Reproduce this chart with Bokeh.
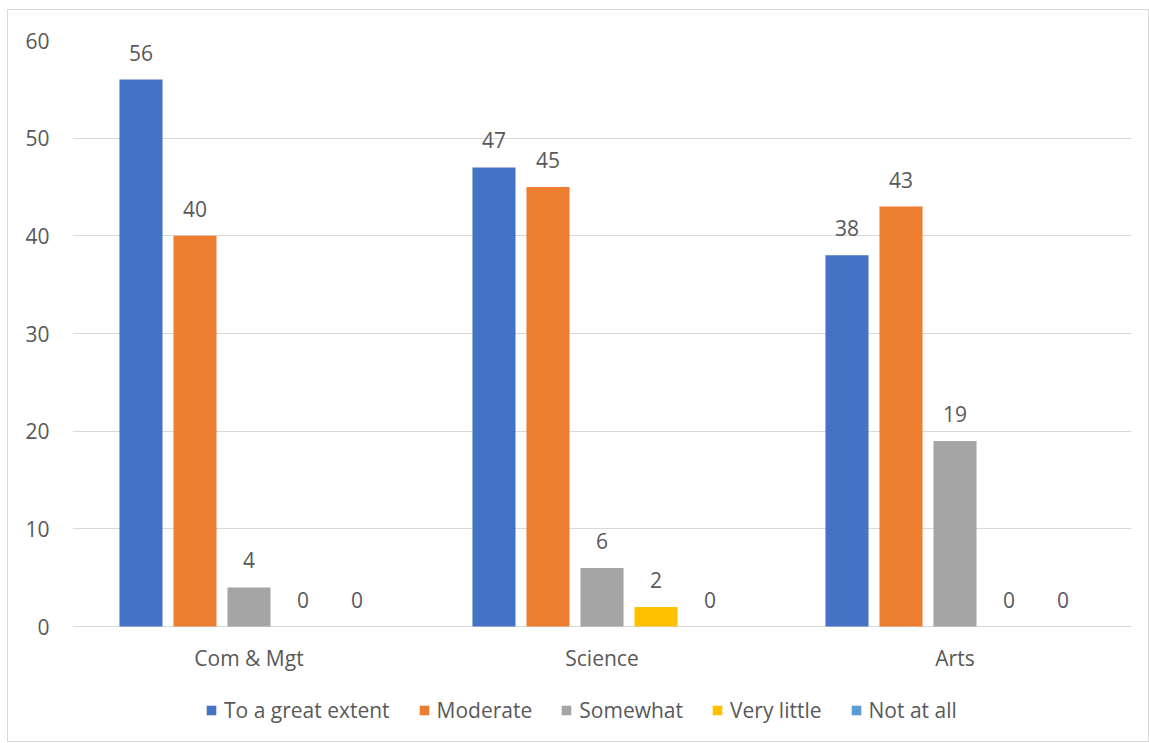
from bokeh.plotting import figure
from bokeh.models import (ColumnDataSource, Range1d, FactorRange, LabelSet, Legend, LegendItem)
from bokeh.core.properties import value
from bokeh.transform import dodge
from bokeh.embed import file_html
from bokeh.resources import INLINE

categories = ["Com & Mgt", "Science", "Arts"]
series_names = ["To a great extent", "Moderate", "Somewhat", "Very little", "Not at all"]
great_extent = [56, 47, 38]
moderate = [40, 45, 43]
somewhat = [4, 6, 19]
very_little = [0, 2, 0]
not_at_all = [0, 0, 0]
y_ticks = [0, 10, 20, 30, 40, 50, 60]

series_values = [great_extent, moderate, somewhat, very_little, not_at_all]
colors = ["#4472C4", "#ED7D31", "#A5A5A5", "#FFC000", "#5B9BD5"]
offsets = [-0.306, -0.153, 0.0, 0.153, 0.306]
FONT = "Open Sans"
FS = "21px"
TXT = "#595959"

# plot area: 60 -> 586 px; extend frame below zero to host category labels and legend
PLOT_PX = 586
EXTRA_PX = 115
y_start = -EXTRA_PX * max(y_ticks) / PLOT_PX

p = figure(x_range=FactorRange(*categories), y_range=Range1d(y_start, max(y_ticks)),
           frame_width=1059, frame_height=PLOT_PX + EXTRA_PX,
           output_backend="svg", toolbar_location=None,
           min_border_left=64, min_border_top=30, min_border_right=17, min_border_bottom=0)
p.styles = {"border": "1px solid #d9d9d9", "margin-left": "7px", "margin-top": "9px"}
p.outline_line_color = None
p.background_fill_color = "white"

p.xgrid.grid_line_color = None
p.ygrid.grid_line_color = "#d9d9d9"
p.ygrid.grid_line_width = 1
p.yaxis.ticker = y_ticks
p.xaxis.visible = False

yax = p.yaxis[0]
yax.axis_line_color = None
yax.major_tick_line_color = None
yax.minor_tick_line_color = None
yax.major_label_text_font = FONT
yax.major_label_text_font_size = FS
yax.major_label_text_color = TXT
yax.major_label_standoff = 17

# category labels under the zero line
cat_src = ColumnDataSource(dict(cat=categories, base=[min(y_ticks)] * len(categories)))
p.add_layout(LabelSet(x="cat", y="base", text="cat", source=cat_src,
                      text_align="center", text_baseline="middle", y_offset=-31,
                      text_font=value(FONT), text_font_size=value(FS), text_color=value(TXT)))

items = []
for name, vals, col, off in zip(series_names, series_values, colors, offsets):
    src = ColumnDataSource(dict(cat=categories, val=vals, lbl=[str(v) for v in vals]))
    r = p.vbar(x=dodge("cat", off, range=p.x_range), top="val", bottom=0, width=0.122,
               source=src, fill_color=col, line_color=None)
    lab = LabelSet(x=dodge("cat", off, range=p.x_range), y="val", text="lbl", source=src,
                   text_align="center", text_baseline="bottom", y_offset=19,
                   text_font=value(FONT), text_font_size=value(FS), text_color=value(TXT))
    p.add_layout(lab)
    items.append(LegendItem(label=name, renderers=[r]))

legend = Legend(items=items, orientation="horizontal", location=(133, 17),
                label_text_font=FONT, label_text_font_size=FS, label_text_color=TXT,
                glyph_width=12, glyph_height=12, spacing=28, label_standoff=7,
                border_line_color=None, background_fill_alpha=0, padding=0, margin=0)
p.add_layout(legend, "center")

open("out.html", "w").write(file_html(p, INLINE))
